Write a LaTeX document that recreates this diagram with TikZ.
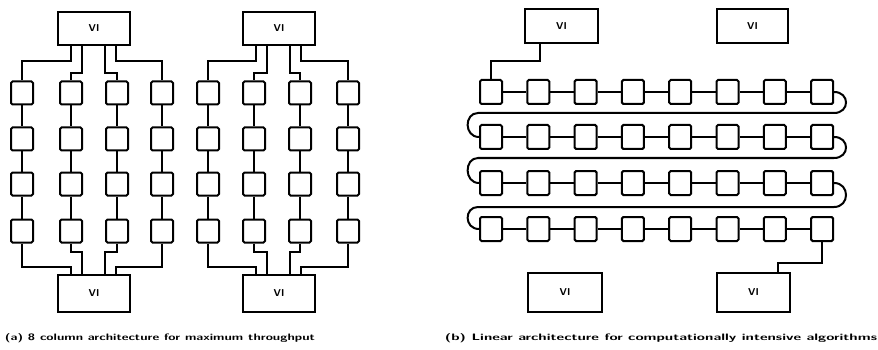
\documentclass[tikz,border=0pt]{standalone}
\usepackage{graphicx}
\begin{document}
\begin{tikzpicture}[x=1pt,y=-1pt,
  blk/.style={draw, line width=2pt, minimum width=22pt, minimum height=23pt, inner sep=0pt, rounded corners=1.5pt},
  vi/.style={draw, line width=2pt, inner sep=0pt, font=\sffamily\bfseries\fontsize{10}{11}\selectfont},
  wire/.style={line width=2pt},
  captxt/.style={inner sep=0pt, font=\sffamily\bfseries}
]
\useasboundingbox (0,0) rectangle (878,350);

% ---------- (a) 8 column architecture ----------
\node[vi, minimum width=72pt, minimum height=33pt] (vA) at (94,28.5) {VI};
\node[vi, minimum width=72pt, minimum height=33pt] (vB) at (279,28.5) {VI};
\node[vi, minimum width=72pt, minimum height=37pt] (vC) at (94,293.5) {VI};
\node[vi, minimum width=72pt, minimum height=37pt] (vD) at (279,293.5) {VI};

\foreach \c/\x in {1/22,2/71,3/117,4/162,5/208,6/254,7/300,8/348}{
  \foreach \r/\y in {1/93,2/139,3/184,4/231}{
    \node[blk] (a-\r-\c) at (\x,\y) {};
  }
  \draw[wire] (a-1-\c.south) -- (a-2-\c.north);
  \draw[wire] (a-2-\c.south) -- (a-3-\c.north);
  \draw[wire] (a-3-\c.south) -- (a-4-\c.north);
}

% top fan-out
\draw[wire] ([xshift=-23pt]vA.south) -- ++(0,15) -| (a-1-1.north);
\draw[wire] ([xshift=-12pt]vA.south) -- ++(0,27) -| (a-1-2.north);
\draw[wire] ([xshift=11pt]vA.south) -- ++(0,27) -| (a-1-3.north);
\draw[wire] ([xshift=22pt]vA.south) -- ++(0,15) -| (a-1-4.north);
\draw[wire] ([xshift=-23pt]vB.south) -- ++(0,15) -| (a-1-5.north);
\draw[wire] ([xshift=-12pt]vB.south) -- ++(0,27) -| (a-1-6.north);
\draw[wire] ([xshift=11pt]vB.south) -- ++(0,27) -| (a-1-7.north);
\draw[wire] ([xshift=22pt]vB.south) -- ++(0,15) -| (a-1-8.north);

% bottom fan-in
\draw[wire] (a-4-1.south) -- ++(0,23) -| ([xshift=-23pt]vC.north);
\draw[wire] (a-4-2.south) -- ++(0,8) -| ([xshift=-12pt]vC.north);
\draw[wire] (a-4-3.south) -- ++(0,8) -| ([xshift=11pt]vC.north);
\draw[wire] (a-4-4.south) -- ++(0,23) -| ([xshift=22pt]vC.north);
\draw[wire] (a-4-5.south) -- ++(0,23) -| ([xshift=-23pt]vD.north);
\draw[wire] (a-4-6.south) -- ++(0,8) -| ([xshift=-12pt]vD.north);
\draw[wire] (a-4-7.south) -- ++(0,8) -| ([xshift=11pt]vD.north);
\draw[wire] (a-4-8.south) -- ++(0,23) -| ([xshift=22pt]vD.north);

\node[captxt] (capA) at (160,338) {\resizebox{310pt}{7pt}{(a) 8 column architecture for maximum throughput}};

% ---------- (b) linear architecture ----------
\node[vi, minimum width=73pt, minimum height=34pt] (vE) at (561.5,26) {VI};
\node[vi, minimum width=71pt, minimum height=34pt] (vF) at (752.5,26) {VI};
\node[vi, minimum width=74pt, minimum height=39pt] (vG) at (565,292.5) {VI};
\node[vi, minimum width=73pt, minimum height=39pt] (vH) at (753.5,292.5) {VI};

\foreach \r/\y in {1/92,2/137,3/183,4/229}{
  \foreach \i in {1,...,8}{
    \node[blk, minimum height=24pt] (c-\r-\i) at ({491+47.3*(\i-1)},\y) {};
  }
  \foreach \i [evaluate=\i as \j using int(\i+1)] in {1,...,7}{
    \draw[wire] (c-\r-\i.east) -- (c-\r-\j.west);
  }
}

% serpentine returns
\draw[wire] (c-1-8.east) .. controls (850,92) and (850,113) .. (834,113) -- (478,113)
  .. controls (464,113) and (464,137) .. (c-2-1.west);
\draw[wire] (c-2-8.east) .. controls (850,137) and (850,158) .. (834,158) -- (478,158)
  .. controls (464,158) and (464,183) .. (c-3-1.west);
\draw[wire] (c-3-8.east) .. controls (850,183) and (850,207) .. (834,207) -- (478,207)
  .. controls (464,207) and (464,229) .. (c-4-1.west);

% VI connections
\draw[wire] ([xshift=-21.5pt]vE.south) -- ++(0,17) -| (c-1-1.north);
\draw[wire] (c-4-8.south) -- ++(0,21) -| ([xshift=24.5pt]vH.north);

\node[captxt] (capB) at (661,338) {\resizebox{432pt}{7pt}{(b) Linear architecture for computationally intensive algorithms}};
\end{tikzpicture}
\end{document}
